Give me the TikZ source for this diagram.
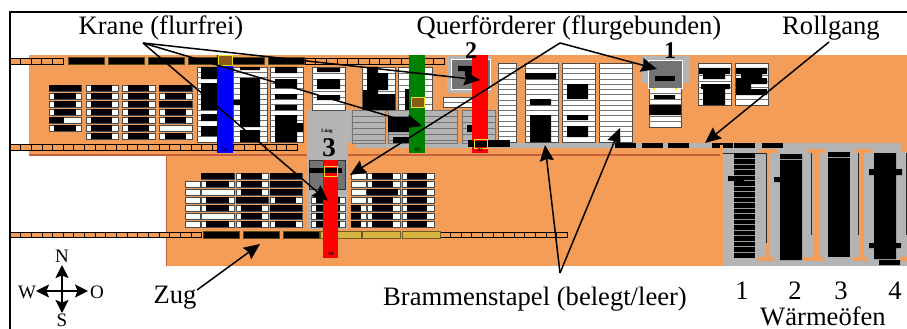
\documentclass[tikz,border=0pt]{standalone}
\usepackage{fontspec}
\setmainfont{Liberation Serif}
\usetikzlibrary{arrows.meta}
\definecolor{hallenorange}{HTML}{F49D59}
\definecolor{hallenrand}{HTML}{C8613A}
\definecolor{flurgrau}{HTML}{B4B4B4}
\definecolor{wagengelb}{HTML}{D8B443}
\definecolor{katzbraun}{HTML}{8B5A14}
\tikzset{
  schiene/.style={draw=black,fill=hallenorange,line width=.9pt},
  wagen/.style={draw=black!60!wagengelb,fill=black,line width=.8pt},
  gelbwagen/.style={draw=black!50!wagengelb,fill=wagengelb,line width=.5pt},
  stapel/.style={draw=black!70,fill=white,line width=.6pt},
  voll/.style={fill=black},
  katze/.style={draw=yellow!90!black,fill=katzbraun,line width=.7pt},
  pfeil/.style={draw=black,line width=1.5pt,-{Stealth[length=16pt,width=14pt,inset=2pt]}},
  kompass/.style={draw=black,line width=1.3pt,-{Stealth[length=13pt,width=13pt,inset=2.5pt]}},
  beschrift/.style={font=\fontsize{26.6}{26.6}\selectfont,inner sep=0pt},
  kleinzahl/.style={font=\fontsize{19}{19}\selectfont,inner sep=0pt},
  mini/.style={font=\bfseries\fontsize{5}{5}\selectfont,inner sep=0pt},
}
% liegender Stapel: x1,x2,y,Anfang und Ende des belegten Teils
\newcommand{\stapelh}[5]{
  \draw[stapel] (#1,#3) rectangle (#2,#3+6);
  \fill[voll] (#4,#3) rectangle (#5,#3+6);
}
% stehender Stapel: x1,y1,x2,y2,Anzahl Linien
\newcommand{\stapelv}[5]{
  \draw[stapel] (#1,#2) rectangle (#3,#4);
  \foreach \i in {1,...,#5}
    \draw[black!55,line width=.5pt] (#1,{#2+\i*(#4-#2)/(#5+1)}) -- (#3,{#2+\i*(#4-#2)/(#5+1)});
}
\begin{document}
\begin{tikzpicture}[x=1pt,y=-1pt]
\useasboundingbox (0,0) rectangle (907,329);

% Halle
\fill[hallenorange] (29,55) rectangle (907,155);
\fill[hallenorange] (166,155) rectangle (724,266);
\fill[hallenrand] (29,154) rectangle (723,156);
\fill[hallenrand] (166,155) rectangle (167,266);

% Schienen
\foreach \x in {10,20.6,...,60} \draw[schiene] (\x,58.5) rectangle ++(10.6,5.5);
\foreach \x in {305,315.7,...,440} \draw[schiene] (\x,58.5) rectangle ++(10.7,5.5);
\foreach \x in {10,20.65,...,295} \draw[schiene] (\x,144.5) rectangle ++(10.65,5.5);
\foreach \x in {10,20.65,...,195} \draw[schiene] (\x,232) rectangle ++(10.65,5.5);
\foreach \x in {440,450.6,...,560} \draw[schiene] (\x,232) rectangle ++(10.6,5.5);
\foreach \x in {68,108,148,188,228,268} \draw[wagen] (\x,57.5) rectangle ++(36,7);
\foreach \x in {203,243,283} \draw[wagen] (\x,231.5) rectangle ++(36,6.5);
\draw[gelbwagen] (320,231.5) rectangle (361,238);
\draw[gelbwagen] (362,231.5) rectangle (400,238);
\draw[gelbwagen] (402,231.5) rectangle (440,238);

% Stapel links oben
\stapelh{49}{81}{85}{49}{81}
\foreach \y in {93,101,109,125} { \stapelh{49}{81}{\y}{54}{76} }
\stapelh{49}{81}{117}{49}{64}
\foreach \y in {85,93,...,133} {
  \stapelh{86}{118}{\y}{91}{112}
  \stapelh{122}{155}{\y}{128}{149}
}
\stapelh{159}{192}{85}{159}{192}
\stapelh{159}{192}{101}{159}{192}
\foreach \y in {93,109,117,133} { \stapelh{159}{192}{\y}{165}{186} }
\stapelh{159}{192}{125}{192}{192}

% Stapel unten
\foreach \y/\a/\b in {173/201/234,181/206/229,197/206/229,205/206/229,221/206/229} { \stapelh{201}{234}{\y}{\a}{\b} }
\foreach \y in {189,213} { \stapelh{201}{234}{\y}{234}{234} }
\foreach \y in {173,181,189,205,213,221} { \stapelh{236}{268}{\y}{241}{262} }
\stapelh{236}{268}{197}{236}{268}
\foreach \y in {173,181,189,205,213} { \stapelh{270}{302}{\y}{270}{302} }
\foreach \y in {197,221} { \stapelh{270}{302}{\y}{275}{296} }
\foreach \y in {181,189,...,221} { \stapelh{185}{200}{\y}{200}{200} }

% Graue Flaechen
\fill[flurgrau] (307,110) rectangle (351,143);
\fill[flurgrau] (307,143) rectangle (348,229);
\fill[flurgrau] (355,143) rectangle (783,148);
\fill[flurgrau] (783,143) rectangle (902,150);
\foreach \y in {197,205,213,221} { \stapelh{311}{345}{\y}{316}{340} }
\foreach \y in {173,181,189,197} { \stapelh{351}{366}{\y}{366}{366} }
\foreach \y in {205,213,221} { \stapelh{351}{366}{\y}{351}{361} }
\foreach \y in {173,181,197,205,213,221} { \stapelh{367}{400}{\y}{372}{393} }
\stapelh{367}{400}{189}{367}{398}
\foreach \y in {173,181,...,221} { \stapelh{402}{434}{\y}{407}{427} }

% Stehende Stapel
\stapelv{197}{67}{228}{142}{13}
\fill[voll] (201,67) rectangle (228,79) (201,83) rectangle (228,110) (201,114) rectangle (228,121) (201,126) rectangle (228,136);
\stapelv{233}{67}{267}{142}{13}
\fill[voll] (240,67) rectangle (260,70) (240,78) rectangle (260,127) (240,130) rectangle (260,142) (233,100) rectangle (240,105);
\stapelv{270}{67}{303}{142}{13}
\fill[voll] (275,67) rectangle (297,73) (275,79) rectangle (297,88) (275,94) rectangle (297,99) (275,105) rectangle (297,110) (275,115) rectangle (297,142) (297,123) rectangle (303,132);
\stapelv{312}{67}{345}{110}{6}
\fill[voll] (317,68) rectangle (340,72) (317,79) rectangle (340,89) (317,95) rectangle (340,100);
\stapelv{362}{67}{395}{110}{6}
\fill[voll] (367,67) rectangle (378,110) (378,73) rectangle (388,90) (378,94) rectangle (395,110) (363,90) rectangle (367,110);
\stapelv{398}{67}{432}{110}{6}
\fill[voll] (405,89) rectangle (409,110);
\stapelv{443}{97}{472}{107}{1}
\stapelv{498}{63}{516}{142}{14}
\stapelv{525}{63}{558}{142}{14}
\fill[voll] (525,73) rectangle (556,79) (530,99) rectangle (551,105) (530,115) rectangle (551,142);
\stapelv{562}{63}{595}{142}{14}
\fill[voll] (567,84) rectangle (588,99) (567,115) rectangle (588,120) (567,126) rectangle (588,137);
\stapelv{599}{63}{632}{142}{14}
\stapelv{649}{88}{681}{127}{6}
\fill[voll] (654,95) rectangle (675,99) (649,105) rectangle (681,115);
\stapelv{698}{63}{731}{105}{6}
\fill[voll] (699,68) rectangle (730,74) (703,74) rectangle (725,79) (701,84) rectangle (730,89) (703,89) rectangle (725,105);
\stapelv{735}{63}{768}{105}{6}
\fill[voll] (736,68) rectangle (767,74) (741,74) rectangle (762,78) (736,78) rectangle (767,84) (736,84) rectangle (751,89) (736,89) rectangle (767,95);

% Graue Stapel im Zwischenlager
\foreach \xa/\xb in {352/385,388/457,462/495} {
  \fill[flurgrau] (\xa,110) rectangle (\xb,143);
  \foreach \y in {116,122,...,140} \draw[black!55,line width=.6pt] (\xa,\y) -- (\xb,\y);
  \draw[black!55,line width=.6pt] (\xa,110) rectangle (\xb,143);
}
\fill[voll] (388,117) rectangle (421,132) (393,137) rectangle (410,143) (467,125) rectangle (472,132);

% Rollgang
\fill[voll] (468,140) rectangle (510,147);
\foreach \x in {615,642,668,712,734,762} \fill[voll] (\x,143) rectangle ++(21,4.5);

% Waermeoefen
\fill[flurgrau] (723,148) rectangle (907,266);
\foreach \a/\b/\c/\d in {760/777/758/774,807/825/804/823,856/872/853/868} {
  \fill[hallenorange] (\a,149) rectangle (\b,153);
  \fill[hallenorange] (\c,257) rectangle (\d,261);
}
\fill[hallenorange] (766,150) rectangle (769,258);
\fill[hallenorange] (813,150) rectangle (820,258);
\fill[hallenorange] (860,150) rectangle (864,258);
\fill[hallenorange] (720,145) rectangle (723,160);
\fill[hallenorange] (900,257) rectangle (907,261);
\fill[hallenorange] (902,145) rectangle (907,152);
\draw[black!85,line width=.7pt] (766,243) -- (766,153) -- (723,153);
\foreach \x in {811.5,858.5,906} \draw[black!85,line width=.7pt] (\x,153) -- (\x,235);
\fill[voll] (733.5,153) rectangle (755,258);
\foreach \y in {158.5,164,...,256} \draw[black!40,line width=.8pt] (733.5,\y) -- (755,\y);
\fill[voll] (728,176) rectangle (744,181);
\fill[voll] (780,154) rectangle (802,260) (774,177) rectangle (790,182);
\draw[black!40,line width=.7pt] (780,159.5) -- (802,159.5);
\fill[voll] (828,152) rectangle (850,257);
\draw[black!40,line width=.7pt] (828,157) -- (850,157);
\fill[voll] (874,153) rectangle (896,259) (869,169) rectangle (902,175) (869,243) rectangle (901,248) (879,260) rectangle (900,265);

% Querfoerderer
\fill[flurgrau] (447,56) rectangle (491,93);
\draw[white,fill=black!55,line width=1pt] (451,60) rectangle (490,89);
\fill[voll] (458,66) rectangle (472,71) (465,71) rectangle (472,76);
\fill[flurgrau] (641,56) rectangle (689,83);
\draw[white,fill=black!55,line width=1pt] (648,61) rectangle (682,88);
\fill[voll] (655,76) rectangle (675,81);
\fill[yellow] (653,88) rectangle ++(2,2) (675,88) rectangle ++(2,2);
\draw[black!80,fill=black!55,line width=1pt] (309,160) rectangle (345,189);
\fill[red] (323,160) rectangle (338,258);
\fill[voll] (309,168) rectangle (342,173);
\draw[katze,fill=none] (324,166) rectangle (337,176);

% Krane
\fill[blue] (217,55) rectangle (233,153);
\draw[katze] (218,55) rectangle (232,65);
\fill[green!50!black] (409,55) rectangle (425,153);
\draw[katze] (411,97) rectangle (424,107);
\fill[red] (472,55) rectangle (488,153);
\fill[voll] (468,141) rectangle (490,147);
\draw[katze,fill=none] (474,139) rectangle (487,148);

\node[mini] (gd) at (224.5,150) {Gd};
\node[mini] (nr07) at (417.5,150) {07};
\node[mini] (nr03) at (480,150) {03};
\node[mini] (nr08) at (331,254) {08};
\node[mini] (lueng) at (327,131) {Lüng};

% Beschriftung
\node[beschrift] (krane) at (161,28) {Krane (flurfrei)};
\node[beschrift] (quer) at (569,28) {Querförderer (flurgebunden)};
\node[beschrift] (rollgang) at (831,28) {Rollgang};
\node[beschrift] (zug) at (175,298) {Zug};
\node[beschrift] (stapeltext) at (535,299) {Brammenstapel (belegt/leer)};
\node[beschrift,font=\bfseries\fontsize{24}{24}\selectfont] (kran2) at (471,51) {2};
\node[beschrift,font=\bfseries\fontsize{24}{24}\selectfont] (kran1) at (670,51) {1};
\node[beschrift,font=\bfseries\fontsize{27}{27}\selectfont] (kran3) at (329,148) {3};
\node[beschrift] (ofen1) at (742,291) {1};
\node[beschrift] (ofen2) at (795,291) {2};
\node[beschrift] (ofen3) at (841,291) {3};
\node[beschrift] (ofen4) at (895,291) {4};
\node[beschrift] (oefen) at (823,316) {Wärmeöfen};

% Kompass
\coordinate (mitte) at (62,291);
\node[kleinzahl] (nord) at (62,256) {N};
\node[kleinzahl] (sued) at (62,320) {S};
\node[kleinzahl] (west) at (27,292) {W};
\node[kleinzahl] (ost) at (97,292) {O};
\coordinate (nspitze) at (62,265);
\coordinate (sspitze) at (62,313);
\coordinate (wspitze) at (36,291);
\coordinate (ospitze) at (88,291);
\foreach \z in {nspitze,sspitze,wspitze,ospitze} \draw[kompass] (mitte) -- (\z);

% Pfeile
\coordinate (kranspitze) at (143,43);
\coordinate (querspitze) at (560,43);
\coordinate (stapelspitze) at (560,273);
\coordinate (ziel kran2) at (480,80);
\coordinate (ziel kran7) at (422,126);
\coordinate (ziel kran3) at (328,201);
\coordinate (ziel quer1) at (657,69);
\coordinate (ziel quer3) at (350,175);
\coordinate (ziel rollgang) at (705,143);
\coordinate (ziel zug) at (260,244);
\coordinate (ziel belegt) at (545,145);
\coordinate (ziel leer) at (620,128);
\coordinate (start rollgang) at (829,42);
\coordinate (start zug) at (197,290);
\foreach \z in {ziel kran2,ziel kran7,ziel kran3} \draw[pfeil] (kranspitze) -- (\z);
\foreach \z in {ziel quer1,ziel quer3} \draw[pfeil] (querspitze) -- (\z);
\foreach \z in {ziel belegt,ziel leer} \draw[pfeil] (stapelspitze) -- (\z);
\draw[pfeil] (start rollgang) -- (ziel rollgang);
\draw[pfeil] (start zug) -- (ziel zug);

% Rahmen
\draw[black,line width=2pt] (10,329) -- (10,12) -- (907,12);
\end{tikzpicture}
\end{document}
